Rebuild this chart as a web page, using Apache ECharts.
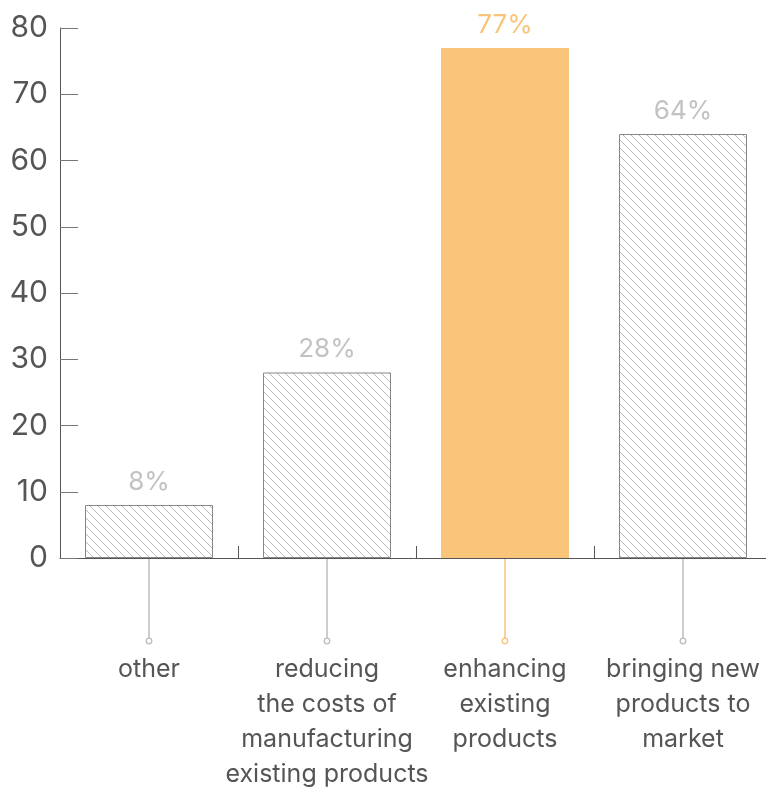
<!DOCTYPE html>
<html>
<head>
<meta charset="utf-8">
<script src="https://cdn.jsdelivr.net/npm/echarts@6/dist/echarts.min.js"></script>
<style>html,body{margin:0;padding:0;background:#fff;overflow:hidden}#c{width:766px;height:787px}</style>
</head>
<body>
<div id="c"></div>
<script>
const categories = ["other", "reducing\nthe costs of\nmanufacturing\nexisting products", "enhancing\nexisting\nproducts", "bringing new\nproducts to\nmarket"];
const values = [8, 28, 77, 64];
const yTicks = [0, 10, 20, 30, 40, 50, 60, 70, 80];
const highlightIndex = 2;

const ORANGE = '#f8c57b';
const GREY_LINE = '#bdbdbd';

function hatch() {
  const s = 8;
  const c = document.createElement('canvas');
  c.width = s; c.height = s;
  const g = c.getContext('2d');
  g.fillStyle = '#fff';
  g.fillRect(0, 0, s, s);
  g.strokeStyle = '#b8b8b8';
  g.lineWidth = 1;
  g.beginPath();
  g.moveTo(-1, -1); g.lineTo(s + 1, s + 1);
  g.moveTo(-1, s - 1); g.lineTo(1, s + 1);
  g.moveTo(s - 1, -1); g.lineTo(s + 1, 1);
  g.stroke();
  return c;
}
const pattern = { image: hatch(), repeat: 'repeat' };

const chart = echarts.init(document.getElementById('c'), null, { renderer: 'canvas', width: 766, height: 787 });
const FONT = 'Inter';

chart.setOption({
  animation: false,
  grid: { left: 60, top: 28, width: 712, height: 530, containLabel: false, outerBoundsMode: 'none' },
  xAxis: {
    type: 'category',
    data: categories,
    axisLine: { lineStyle: { color: '#555', width: 1 } },
    axisTick: { show: true, inside: true, length: 12, lineStyle: { color: '#555' } },
    axisLabel: {
      interval: 0, margin: 94, fontFamily: FONT, fontSize: 25, lineHeight: 35,
      color: '#555', align: 'center', verticalAlign: 'top'
    }
  },
  yAxis: {
    type: 'value', min: 0, max: 80, interval: 10,
    axisLine: { show: true, lineStyle: { color: '#555', width: 1 } },
    axisTick: { show: true, inside: true, length: 18, lineStyle: { color: '#777' } },
    splitLine: { show: false },
    axisLabel: {
      margin: 12, fontFamily: FONT, fontSize: 30, color: '#555',
      formatter: v => yTicks.indexOf(v) >= 0 ? String(v) : ''
    }
  },
  series: [
    {
      type: 'bar',
      barWidth: 128,
      data: values.map((v, i) => ({
        value: v,
        itemStyle: i === highlightIndex
          ? { color: ORANGE, borderWidth: 0 }
          : { color: pattern, borderColor: '#888', borderWidth: 1 },
        label: { color: i === highlightIndex ? ORANGE : '#c2c2c2' }
      })),
      label: {
        show: true, position: 'top', distance: 10,
        fontFamily: FONT, fontSize: 26,
        formatter: p => p.value + '%'
      }
    },
    {
      type: 'custom',
      clip: false,
      silent: true,
      data: values.map((v, i) => [i, 0]),
      renderItem: function (params, api) {
        const i = api.value(0);
        const p = api.coord([i, 0]);
        const col = i === highlightIndex ? ORANGE : GREY_LINE;
        const len = 80;
        return {
          type: 'group',
          children: [
            { type: 'line', shape: { x1: p[0], y1: p[1] + 1, x2: p[0], y2: p[1] + len }, style: { stroke: col, lineWidth: 1.5 } },
            { type: 'circle', shape: { cx: p[0], cy: p[1] + len + 3, r: 2.8 }, style: { fill: '#fff', stroke: col, lineWidth: 1.3 } }
          ]
        };
      }
    }
  ]
});
</script>
</body>
</html>
